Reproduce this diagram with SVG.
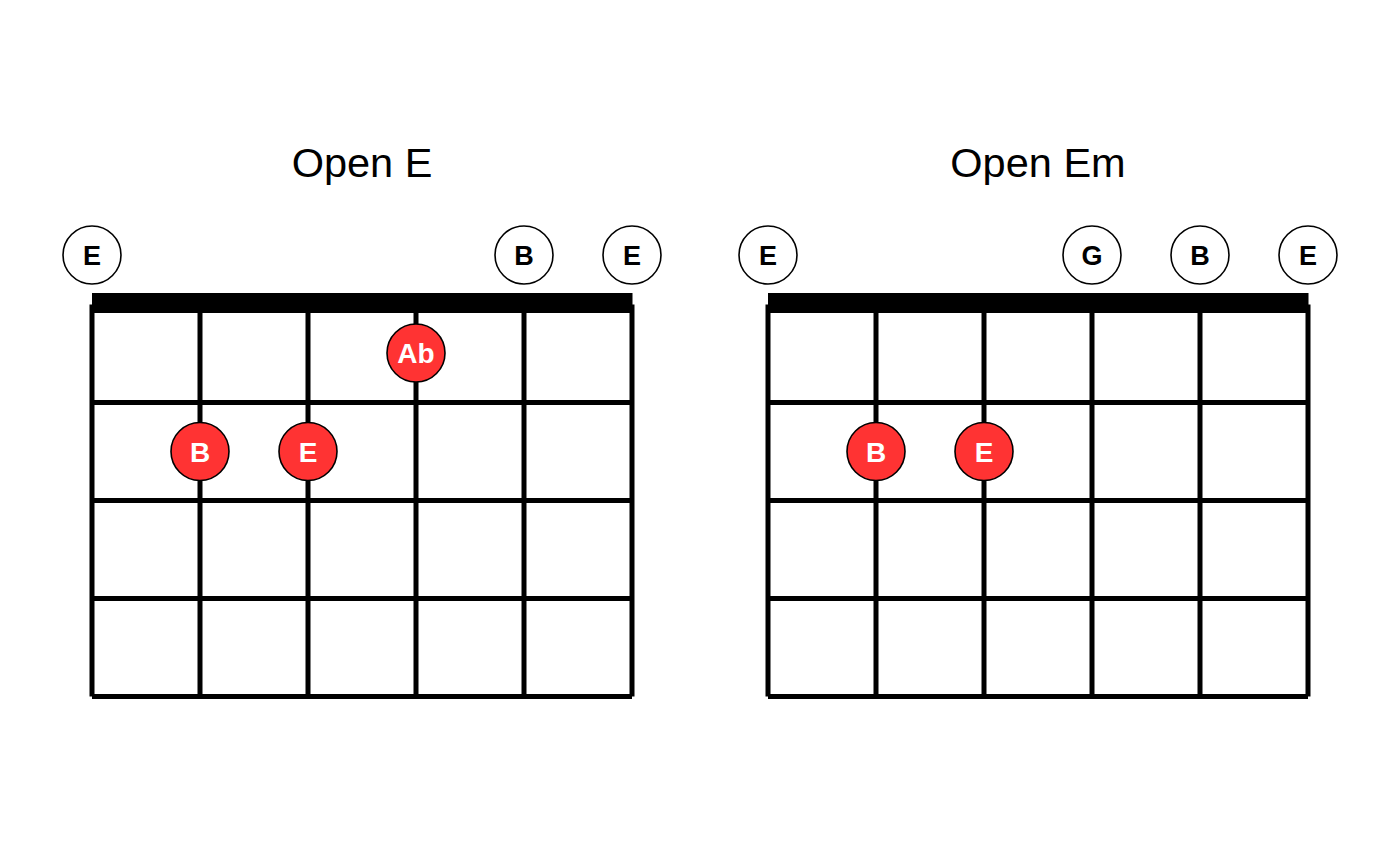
<svg xmlns="http://www.w3.org/2000/svg" width="1400" height="865" viewBox="0 0 1400 865">
<style>
.title{font-family:"Liberation Sans",Arial,sans-serif;font-size:41.5px;fill:#000;text-anchor:middle}
.str{stroke:#000;stroke-width:5;stroke-linecap:butt;fill:none}
.nut{fill:#000}
.open circle{fill:#fff;stroke:#000;stroke-width:1.6}
.open text{font-family:"Liberation Sans",Arial,sans-serif;font-weight:bold;font-size:27px;fill:#000;text-anchor:middle}
.dot circle{fill:#ff3333;stroke:#000;stroke-width:1.6}
.dot text{font-family:"Liberation Sans",Arial,sans-serif;font-weight:bold;font-size:28px;fill:#fff;text-anchor:middle}
</style>
<rect width="1400" height="865" fill="#fff"/>

<g id="chart-open-e">
  <text class="title" x="362" y="177">Open E</text>
  <g id="grid-e" class="str">
    <path d="M92 304.5V696.5M200 304.5V696.5M308 304.5V696.5M416 304.5V696.5M524 304.5V696.5M632 304.5V696.5"/>
    <path d="M92 402.5H632M92 500.5H632M92 598.5H632M92 696.5H632"/>
  </g>
  <rect id="nut-e" class="nut" x="92" y="293" width="540.5" height="20"/>
  <g id="e-open-1" class="open"><circle cx="92" cy="255" r="29"/><text x="92" y="265">E</text></g>
  <g id="e-open-5" class="open"><circle cx="524" cy="255" r="29"/><text x="524" y="265">B</text></g>
  <g id="e-open-6" class="open"><circle cx="632" cy="255" r="29"/><text x="632" y="265">E</text></g>
  <g id="e-dot-ab" class="dot"><circle cx="416" cy="353" r="29"/><text x="416" y="363">Ab</text></g>
  <g id="e-dot-b" class="dot"><circle cx="200" cy="451.5" r="29"/><text x="200" y="461.5">B</text></g>
  <g id="e-dot-e" class="dot"><circle cx="308" cy="451.5" r="29"/><text x="308" y="461.5">E</text></g>
</g>

<g id="chart-open-em">
  <text class="title" x="1038" y="177">Open Em</text>
  <g id="grid-em" class="str">
    <path d="M768 304.5V696.5M876 304.5V696.5M984 304.5V696.5M1092 304.5V696.5M1200 304.5V696.5M1308 304.5V696.5"/>
    <path d="M768 402.5H1308M768 500.5H1308M768 598.5H1308M768 696.5H1308"/>
  </g>
  <rect id="nut-em" class="nut" x="768" y="293" width="540.5" height="20"/>
  <g id="em-open-1" class="open"><circle cx="768" cy="255" r="29"/><text x="768" y="265">E</text></g>
  <g id="em-open-4" class="open"><circle cx="1092" cy="255" r="29"/><text x="1092" y="265">G</text></g>
  <g id="em-open-5" class="open"><circle cx="1200" cy="255" r="29"/><text x="1200" y="265">B</text></g>
  <g id="em-open-6" class="open"><circle cx="1308" cy="255" r="29"/><text x="1308" y="265">E</text></g>
  <g id="em-dot-b" class="dot"><circle cx="876" cy="451.5" r="29"/><text x="876" y="461.5">B</text></g>
  <g id="em-dot-e" class="dot"><circle cx="984" cy="451.5" r="29"/><text x="984" y="461.5">E</text></g>
</g>
</svg>
